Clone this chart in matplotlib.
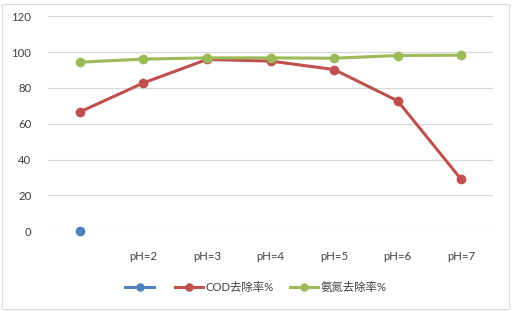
import matplotlib
matplotlib.use("Agg")
import matplotlib.pyplot as plt
import numpy as np
from matplotlib.patches import Rectangle

plt.rcParams['font.family'] = ['Lato', 'Noto Sans CJK SC', 'DejaVu Sans']

categories = ["", "pH=2", "pH=3", "pH=4", "pH=5", "pH=6", "pH=7"]
series1 = [0, np.nan, np.nan, np.nan, np.nan, np.nan, np.nan]
cod = [66.6, 82.8, 95.9, 95.0, 90.3, 72.8, 29.0]
nh = [94.4, 96.1, 96.8, 96.8, 96.6, 98.1, 98.3]
yticks = [0, 20, 40, 60, 80, 100, 120]

fig = plt.figure(figsize=(5.12, 3.11), dpi=100)
ax = fig.add_axes([48/512, 1 - 231.3/311, 445/512, (231.3 - 16.3)/311])

x = np.arange(len(categories))
lw = 2.2
ms = 6
ax.plot(x, series1, color='#4F81BD', lw=lw, marker='o', ms=ms, label=' ')
ax.plot(x, cod, color='#C0504D', lw=lw, marker='o', ms=ms, label='COD去除率%')
ax.plot(x, nh, color='#9BBB59', lw=lw, marker='o', ms=ms, label='氨氮去除率%')

fs = 8.2
ax.set_xlim(-0.5, 6.5)
ax.set_ylim(0, 120)
ax.set_yticks(yticks)
ax.set_yticklabels([str(v) for v in yticks], fontsize=fs, color='#404040')
ax.set_xticks(x)
ax.set_xticklabels(categories, fontsize=fs, color='#404040')
ax.tick_params(axis='both', length=0)
ax.tick_params(axis='x', pad=14)
ax.tick_params(axis='y', pad=12)
ax.grid(axis='y', color='#D9D9D9', lw=0.9)
ax.set_axisbelow(True)
for s in ax.spines.values():
    s.set_visible(False)
for l in ax.lines:
    l.set_clip_on(False)

leg = fig.legend(loc='center', bbox_to_anchor=(0.5, 1 - 287/311), ncol=3, frameon=False,
                 fontsize=fs, handlelength=2.5, columnspacing=1.4, handletextpad=0.2,
                 markerscale=0.85)
for t in leg.get_texts():
    t.set_color('#404040')

fig.patches.append(Rectangle((2/512, 2/311), 507/512, 305/311, transform=fig.transFigure,
                             fill=False, edgecolor='#D9D9D9', lw=0.9))

fig.savefig('out.png', dpi=100)
